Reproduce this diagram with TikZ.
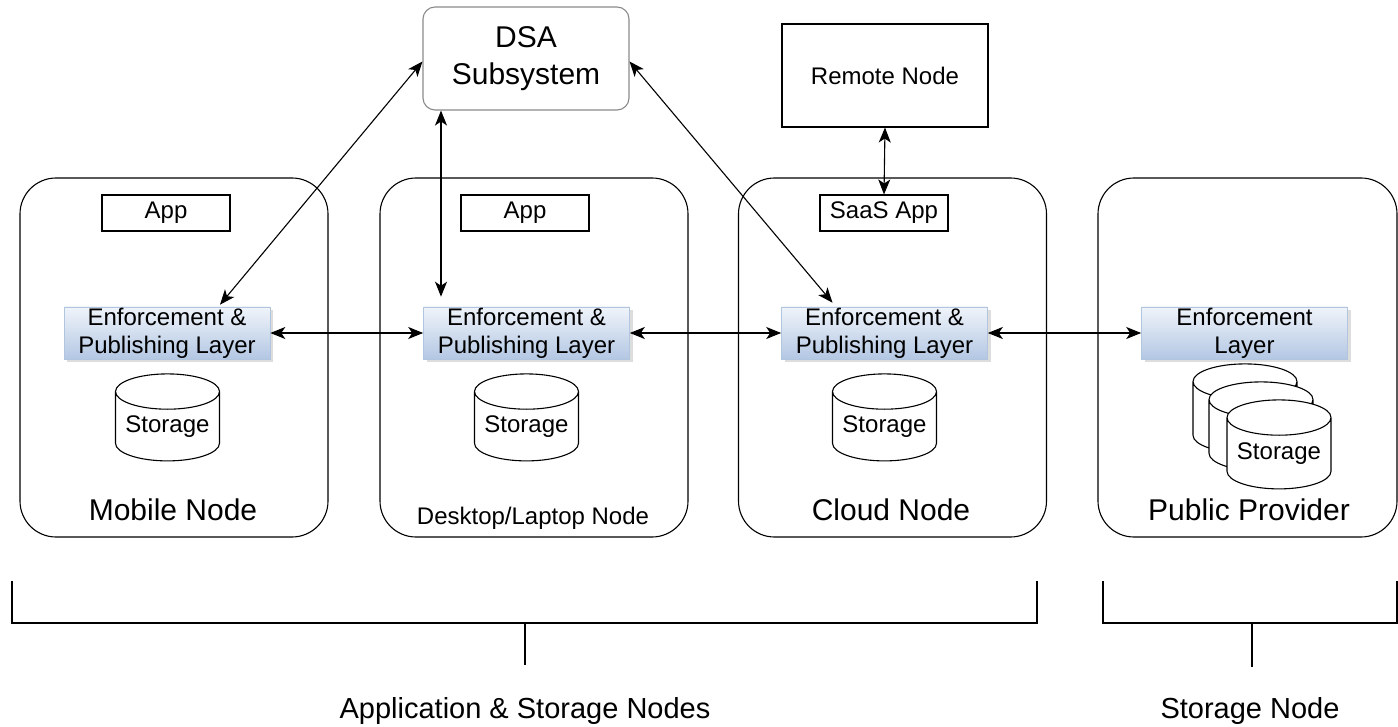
\documentclass[tikz,border=0pt]{standalone}
\usepackage{fontspec}
\setmainfont{Liberation Sans}
\usetikzlibrary{arrows.meta,shapes.geometric,shadows}
\definecolor{elTop}{HTML}{F0F4FA}
\definecolor{elBot}{HTML}{B3C7E3}
\definecolor{elEdge}{HTML}{B2C5DE}
\definecolor{dsaEdge}{HTML}{8A8A8A}
\begin{document}
\begin{tikzpicture}[x=1pt,y=-1pt,
  >={Stealth[length=15pt,width=12pt,inset=4pt]},
  hostbox/.style={draw, rounded corners=36pt, line width=1.1pt,
    minimum width=308pt, minimum height=359pt, inner sep=0pt},
  appbox/.style={draw, line width=1.1pt, minimum width=128pt,
    minimum height=36pt, inner sep=0pt, font=\fontsize{24}{28}\selectfont},
  layer/.style={draw=elEdge, line width=0.6pt, top color=elTop, bottom color=elBot,
    minimum width=206pt, minimum height=52pt, inner sep=0pt, align=center,
    font=\fontsize{24}{28}\selectfont,
    drop shadow={shadow xshift=3pt, shadow yshift=-3pt, fill=black!22, opacity=0.6}},
  drum/.style={draw, fill=white, line width=1.1pt, shape=cylinder,
    shape border rotate=90, aspect=0.42, minimum width=104pt,
    minimum height=87pt, inner sep=0pt, font=\fontsize{24}{28}\selectfont},
  biglabel/.style={anchor=base, font=\fontsize{30}{34}\selectfont},
  foot/.style={anchor=base, font=\fontsize{29}{34}\selectfont},
  link/.style={<->, line width=1.1pt},
  brace/.style={line width=2.6pt}]
\useasboundingbox (0,0) rectangle (1398,727);

% hosting nodes
\node[hostbox] (mob)   at (174,357.5) {};
\node[hostbox] (desk)  at (534,357.5) {};
\node[hostbox] (cloud) at (892.5,357.5) {};
\node[hostbox, minimum width=299pt] (pub) at (1247.5,357.5) {};

\node[biglabel] (mobLbl)   at (173,520) {Mobile Node};
\node[anchor=base, font=\fontsize{24}{28}\selectfont] (deskLbl) at (533,524) {Desktop/Laptop Node};
\node[biglabel] (cloudLbl) at (891,520) {Cloud Node};
\node[biglabel] (pubLbl)   at (1249,520) {Public Provider};

% applications
\node[appbox] (mobApp)  at (166,213) {App};
\node[appbox] (deskApp) at (525,213) {App};
\node[appbox] (saas)    at (884,213) {SaaS App};

% top level services
\node[draw, line width=1.1pt, minimum width=206pt, minimum height=103pt,
  font=\fontsize{24}{28}\selectfont] (remote) at (885,75.5) {Remote Node};
\node[draw=dsaEdge, line width=1.1pt, rounded corners=12pt, minimum width=206pt,
  minimum height=103pt, align=center, font=\fontsize{30}{37}\selectfont]
  (dsa) at (526,58.5) {DSA\\Subsystem};

% enforcement layers
\node[layer] (mobEL)   at (167,333)   {Enforcement \&\\Publishing Layer};
\node[layer] (deskEL)  at (526.5,333) {Enforcement \&\\Publishing Layer};
\node[layer] (cloudEL) at (884.5,333) {Enforcement \&\\Publishing Layer};
\node[layer] (pubEL)   at (1244.5,333) {Enforcement\\Layer};

% storage (the stacked drums keep an invisible label so their caps match)
\node[drum] (mobSt)   at (167.5,426.5) {Storage};
\node[drum] (deskSt)  at (526.5,426.5) {Storage};
\node[drum] (cloudSt) at (884.5,426.5) {Storage};
\node[drum, minimum height=89pt] (pubSt1) at (1245,417.5) {\phantom{Storage}};
\node[drum, minimum height=89pt] (pubSt2) at (1261,435.5) {\phantom{Storage}};
\node[drum, minimum height=89pt] (pubSt3) at (1279,453.5) {Storage};

% connectors
\draw[link] ([yshift=-3pt]dsa.west) -- ([xshift=53pt,yshift=2pt]mobEL.north);
\draw[link] ([xshift=-85pt]dsa.south) -- ([xshift=-85.5pt,yshift=10pt]deskEL.north);
\draw[link] ([yshift=-3pt]dsa.east) -- ([xshift=-52pt,yshift=4pt]cloudEL.north);
\draw[link] (remote.south) -- (saas.north);
\draw[link] (mobEL.east) -- (deskEL.west);
\draw[link] (deskEL.east) -- (cloudEL.west);
\draw[link] (cloudEL.east) -- (pubEL.west);

% grouping brackets
\coordinate (appStem) at (525,665);
\coordinate (stoStem) at (1252,667);
\draw[brace] (12,581) -- (12,623) -- (1037,623) -- (1037,581);
\draw[brace] (525,623) -- (appStem);
\draw[brace] (1103,581) -- (1103,623) -- (1397,623) -- (1397,581);
\draw[brace] (1252,623) -- (stoStem);
\node[foot] (appGroup) at (525,718) {Application \& Storage Nodes};
\node[foot] (stoGroup) at (1250,718) {Storage Node};
\end{tikzpicture}
\end{document}
